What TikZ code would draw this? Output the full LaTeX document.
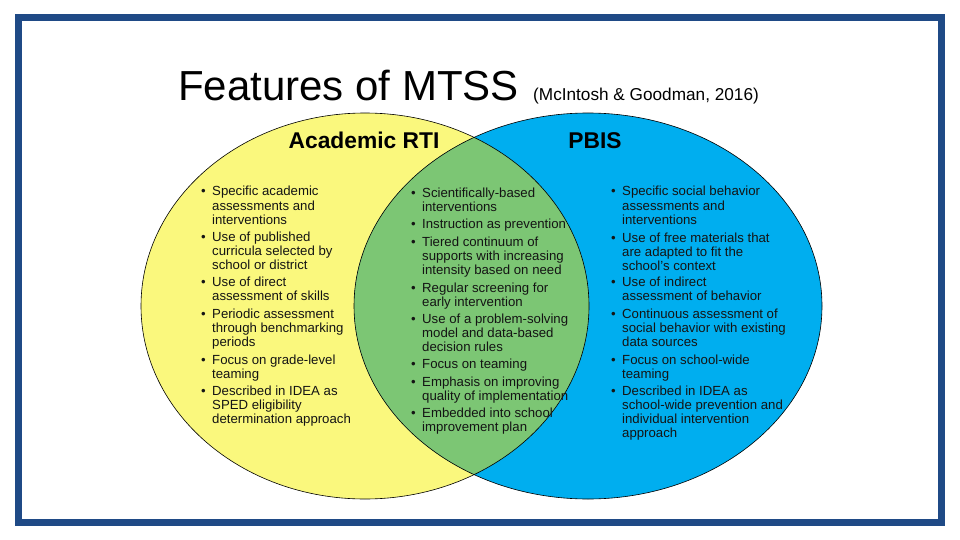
\documentclass[tikz,border=0pt]{standalone}
\usepackage{fontspec}
\setmainfont{Liberation Sans}
\definecolor{frameblue}{RGB}{31,74,134}
\definecolor{vennyellow}{RGB}{250,248,125}
\definecolor{vennblue}{RGB}{0,174,239}
\definecolor{venngreen}{RGB}{124,198,116}
\definecolor{txt}{RGB}{20,20,20}
\newcommand\bl[1]{\begin{tabular}[t]{@{}p{11pt}@{}l@{}}\textbullet&#1\end{tabular}}
\tikzset{
  itemtext/.style={anchor=base west, inner sep=0pt, text=txt,
    font=\fontsize{13.2}{14.2}\selectfont},
  header/.style={anchor=base, inner sep=0pt, font=\fontsize{22.8}{25}\selectfont\bfseries},
  ellipseline/.style={draw=black, line width=0.6pt}
}
\begin{document}
\begin{tikzpicture}[x=1pt,y=-1pt]
\useasboundingbox (0,0) rectangle (960,540);
\fill[white] (0,0) rectangle (960,540);
% frame
\draw[frameblue, line width=7pt] (18.5,17.5) rectangle (941.5,522.5);
% venn
\fill[vennyellow] (365,306) ellipse [x radius=224, y radius=193];
\fill[vennblue] (588,306) ellipse [x radius=234, y radius=193];
\begin{scope}
  \clip (365,306) ellipse [x radius=224, y radius=193];
  \fill[venngreen] (588,306) ellipse [x radius=234, y radius=193];
\end{scope}
\draw[ellipseline] (365,306) ellipse [x radius=224, y radius=193];
\draw[ellipseline] (588,306) ellipse [x radius=234, y radius=193];
% title
\node[anchor=base west, inner sep=0pt, font=\fontsize{42}{45}\selectfont] (title) at (178,101) {Features of MTSS};
\node[anchor=base west, inner sep=0pt, font=\fontsize{17.2}{19}\selectfont] (cite) at (533,101) {(McIntosh \& Goodman, 2016)};
\node[header] (rti) at (364,149) {Academic RTI};
\node[header] (pbis) at (595,149) {PBIS};
% left column
\node[itemtext] (l1) at (201,196) {\bl{Specific academic\\&assessments and\\&interventions}};
\node[itemtext] (l2) at (201,241) {\bl{Use of published\\&curricula selected by\\&school or district}};
\node[itemtext] (l3) at (201,286) {\bl{Use of direct\\&assessment of skills}};
\node[itemtext] (l4) at (201,318) {\bl{Periodic assessment\\&through benchmarking\\&periods}};
\node[itemtext] (l5) at (201,364) {\bl{Focus on grade-level\\&teaming}};
\node[itemtext] (l6) at (201,395) {\bl{Described in IDEA as\\&SPED eligibility\\&determination approach}};
% middle column
\node[itemtext] (m1) at (411,197) {\bl{Scientifically-based\\&interventions}};
\node[itemtext] (m2) at (411,228) {\bl{Instruction as prevention}};
\node[itemtext] (m3) at (411,246) {\bl{Tiered continuum of\\&supports with increasing\\&intensity based on need}};
\node[itemtext] (m4) at (411,292) {\bl{Regular screening for\\&early intervention}};
\node[itemtext] (m5) at (411,323) {\bl{Use of a problem-solving\\&model and data-based\\&decision rules}};
\node[itemtext] (m6) at (411,368) {\bl{Focus on teaming}};
\node[itemtext] (m7) at (411,386) {\bl{Emphasis on improving\\&quality of implementation}};
\node[itemtext] (m8) at (411,417) {\bl{Embedded into school\\&improvement plan}};
% right column
\node[itemtext] (r1) at (611,196) {\bl{Specific social behavior\\&assessments and\\&interventions}};
\node[itemtext] (r2) at (611,242) {\bl{Use of free materials that\\&are adapted to fit the\\&school's context}};
\node[itemtext] (r3) at (611,286) {\bl{Use of indirect\\&assessment of behavior}};
\node[itemtext] (r4) at (611,318) {\bl{Continuous assessment of\\&social behavior with existing\\&data sources}};
\node[itemtext] (r5) at (611,364) {\bl{Focus on school-wide\\&teaming}};
\node[itemtext] (r6) at (611,395) {\bl{Described in IDEA as\\&school-wide prevention and\\&individual intervention\\&approach}};
\end{tikzpicture}
\end{document}
